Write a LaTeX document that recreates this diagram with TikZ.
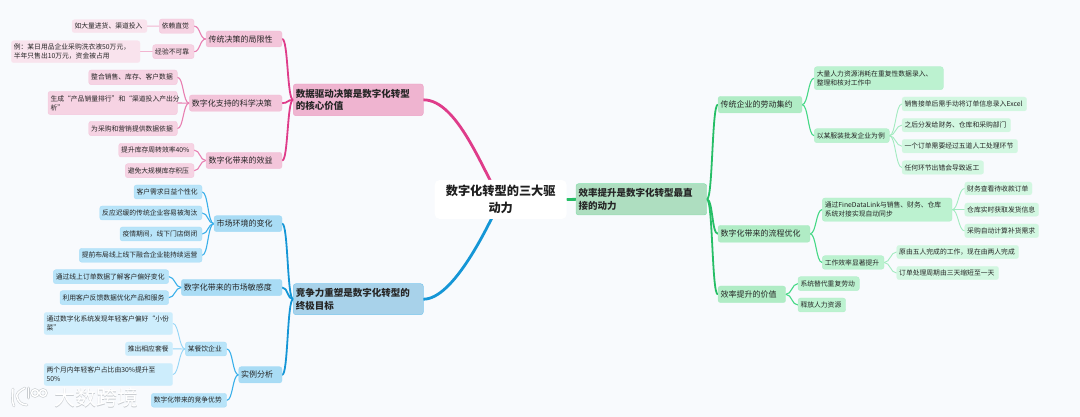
\documentclass[tikz,border=0pt]{standalone}
\usepackage{fontspec}
\setmainfont{Noto Sans CJK SC}
\usetikzlibrary{backgrounds,calc}
\definecolor{bgc}{HTML}{F8FAFD}
\definecolor{pA}{HTML}{EFB4D0}\definecolor{pB}{HTML}{F3C5DA}\definecolor{pC}{HTML}{F6D3E3}\definecolor{pD}{HTML}{F9E3ED}
\definecolor{bA}{HTML}{A8D2EA}\definecolor{bB}{HTML}{A9DCF5}\definecolor{bC}{HTML}{B8E4F9}\definecolor{bD}{HTML}{CDEDFC}
\definecolor{gA}{HTML}{AEDEC0}\definecolor{gB}{HTML}{B0ECC5}\definecolor{gC}{HTML}{BCF2D0}\definecolor{gD}{HTML}{D2F7E1}
\definecolor{pL}{HTML}{DF3C8A}\definecolor{pM}{HTML}{E87FB1}\definecolor{pN}{HTML}{F2B5D0}
\definecolor{bL}{HTML}{1596D6}\definecolor{bM}{HTML}{3AB0EA}\definecolor{bN}{HTML}{93D5F6}
\definecolor{gL}{HTML}{26BE66}\definecolor{gM}{HTML}{45D885}\definecolor{gN}{HTML}{A2EBC0}
\definecolor{wmshadow}{HTML}{C8CCD0}
\tikzset{
  x=1pt,y=1pt,
  box/.style={rounded corners=2.5pt,inner sep=0pt,align=left,text=black!85,draw opacity=.55,line width=.4pt},
  mainbox/.style={box,font=\fontsize{9.5}{12.7}\selectfont\bfseries},
  subbox/.style={box,font=\fontsize{8}{10}\selectfont},
  smallbox/.style={box,font=\fontsize{6.8}{9}\selectfont},
  pa/.style={mainbox,fill=pA,draw=pM},pb/.style={subbox,fill=pB,draw=pN},pc/.style={smallbox,fill=pC,draw=pN},pd/.style={smallbox,fill=pD,draw=pD},
  ba/.style={mainbox,fill=bA,draw=bM},bb/.style={subbox,fill=bB,draw=bN},bc/.style={smallbox,fill=bC,draw=bN},bd/.style={smallbox,fill=bD,draw=bD},
  ga/.style={mainbox,fill=gA,draw=gM},gb/.style={subbox,fill=gB,draw=gN},gc/.style={smallbox,fill=gC,draw=gN},gd/.style={smallbox,fill=gD,draw=gD},
  link/.style={line cap=round,line join=round},
  wmtext/.style={inner sep=0pt,font=\fontsize{21}{21}\selectfont},
}
% \bx{name}{style}{x1}{y1}{x2}{y2}{text}  (pixel coordinates, y downward)
\newcommand{\bx}[7]{%
  \pgfmathsetmacro\bxw{#5-#3}\pgfmathsetmacro\bxh{#6-#4}%
  \pgfmathsetmacro\bxtw{#5-#3-5}%
  \pgfmathsetmacro\bxcx{(#3+#5)/2}\pgfmathsetmacro\bxcy{417-(#4+#6)/2}%
  \node[#2,minimum width=\bxw pt,minimum height=\bxh pt,text width=\bxtw pt] (#1) at (\bxcx,\bxcy) {#7};}
\newcommand{\lkL}[4]{\draw[link,draw=#1,line width=#2pt] (#3.west) to[out=180,in=0,out distance=6pt,in distance=6pt] (#4.east);}
\newcommand{\lkR}[4]{\draw[link,draw=#1,line width=#2pt] (#3.east) to[out=0,in=180,out distance=6pt,in distance=6pt] (#4.west);}
\begin{document}
\begin{tikzpicture}
\useasboundingbox (0,0) rectangle (1080,417);
\begin{scope}[on background layer]
\fill[bgc] (0,0) rectangle (1080,417);
\end{scope}
% centre
\node[rounded corners=5pt,fill=white,inner sep=0pt,minimum width=132pt,minimum height=39pt,align=center,text=black!88,font=\fontsize{12.2}{16.7}\selectfont\bfseries] (centre) at (500.7,217.5) {数字化转型的三大驱\\动力};
% pink branch
\bx{pmain}{pa}{293.3}{84}{423.3}{115.7}{数据驱动决策是数字化转型\\的核心价值}
\bx{p1}{pb}{206}{31}{282}{47}{传统决策的局限性}
\bx{p2}{pb}{189.3}{95}{282}{111.3}{数字化支持的科学决策}
\bx{p3}{pb}{206}{152.3}{282}{168.7}{数字化带来的效益}
\bx{p11}{pc}{159.3}{19}{194}{33.3}{依赖直觉}
\bx{p12}{pc}{152.7}{44.7}{194}{58.7}{经验不可靠}
\bx{p111}{pd}{72}{19.7}{147}{32.7}{如大量进货、渠道投入}
\bx{p121}{pd}{11.3}{40.7}{140}{62.7}{例：某日用品企业采购洗衣液50万元，\\半年只售出10万元，资金被占用}
\bx{p21}{pc}{88.7}{70}{177.3}{84.7}{整合销售、库存、客户数据}
\bx{p22}{pc}{48}{91.3}{177.3}{114.7}{生成“产品销量排行”和“渠道投入产出分\\析”}
\bx{p23}{pc}{88.7}{121.3}{177.3}{135.7}{为采购和营销提供数据依据}
\bx{p31}{pc}{118.7}{143.3}{194}{157}{提升库存周转效率40\%}
\bx{p32}{pc}{125.3}{163.7}{194}{177.7}{避免大规模库存积压}
% blue branch
\bx{bmain}{ba}{293.3}{283.7}{423.3}{314.7}{竞争力重塑是数字化转型的\\终极目标}
\bx{b1}{bb}{214}{215.7}{282}{231.7}{市场环境的变化}
\bx{b2}{bb}{181.3}{279.3}{282}{295.7}{数字化带来的市场敏感度}
\bx{b3}{bb}{238.7}{366.7}{282}{383}{实例分析}
\bx{b11}{bc}{134}{185}{202}{199}{客户需求日益个性化}
\bx{b12}{bc}{99.7}{206}{202}{220}{反应迟缓的传统企业容易被淘汰}
\bx{b13}{bc}{120}{227}{202}{241}{疫情期间，线下门店倒闭}
\bx{b14}{bc}{79.3}{248.3}{202}{262.3}{提前布局线上线下融合企业能持续运营}
\bx{b21}{bc}{53.3}{269.7}{168.7}{283.7}{通过线上订单数据了解客户偏好变化}
\bx{b22}{bc}{60}{290.7}{168.7}{304.7}{利用客户反馈数据优化产品和服务}
\bx{b31}{bc}{185.3}{342}{226.7}{356}{某餐饮企业}
\bx{b32}{bc}{151.3}{393.3}{226.7}{407.3}{数字化带来的竞争优势}
\bx{b311}{bd}{44}{312.3}{172.7}{334.7}{通过数字化系统发现年轻客户偏好“小份\\菜”}
\bx{b312}{bd}{125.3}{342}{172.7}{355.7}{推出相应套餐}
\bx{b313}{bd}{44}{363.3}{172.7}{385.7}{两个月内年轻客户占比由30\%提升至\\50\%}
% green branch
\bx{gmain}{ga}{576}{183.7}{706.7}{215}{效率提升是数字化转型最直\\接的动力}
\bx{g1}{gb}{718}{96.3}{802}{113}{传统企业的劳动集约}
\bx{g2}{gb}{718}{225.3}{810}{242.3}{数字化带来的流程优化}
\bx{g3}{gb}{718}{286}{785.7}{302.7}{效率提升的价值}
\bx{g11}{gc}{814.3}{66.7}{943.3}{89.7}{大量人力资源消耗在重复性数据录入、\\整理和核对工作中}
\bx{g12}{gc}{814.3}{128.7}{889.3}{142.7}{以某服装批发企业为例}
\bx{g121}{gd}{902}{97}{1026.7}{111}{销售接单后需手动将订单信息录入Excel}
\bx{g122}{gd}{902}{118.3}{1010.7}{132}{之后分发给财务、仓库和采购部门}
\bx{g123}{gd}{902}{139.3}{1017.7}{153}{一个订单需要经过五道人工处理环节}
\bx{g124}{gd}{902}{160.7}{983.7}{174.3}{任何环节出错会导致返工}
\bx{g21}{gc}{822.3}{198}{952}{221.3}{通过FineDataLink与销售、财务、仓库\\系统对接实现自动同步}
\bx{g22}{gc}{822.3}{255.7}{884}{269.3}{工作效率显著提升}
\bx{g211}{gd}{964.7}{182}{1032}{195}{财务查看待收款订单}
\bx{g212}{gd}{964.7}{203}{1038.7}{216.3}{仓库实时获取发货信息}
\bx{g213}{gd}{964.7}{224}{1038.7}{237.7}{采购自动计算补货需求}
\bx{g221}{gd}{896.7}{245.3}{1018.7}{258.7}{原由五人完成的工作，现在由两人完成}
\bx{g222}{gd}{896.7}{266.3}{998.7}{279.7}{订单处理周期由三天缩短至一天}
\bx{g31}{gc}{798}{276.7}{859.3}{290.7}{系统替代重复劳动}
\bx{g32}{gc}{798}{298}{845.7}{312}{释放人力资源}
% connectors
\begin{scope}[on background layer]
\draw[link,draw=pL,line width=2.8pt] (pmain.east) to[out=0,in=122,out distance=34pt,in distance=34pt] (centre.center);
\draw[link,draw=bL,line width=2.8pt] (bmain.east) to[out=0,in=-115,out distance=30pt,in distance=30pt] (centre.center);
\draw[link,draw=gL,line width=2.8pt] (centre.east) -- (gmain.west);
\foreach \c in {p1,p2,p3}{\lkL{pL}{1.8}{pmain}{\c}}
\foreach \c in {p11,p12}{\lkL{pM}{1.1}{p1}{\c}}
\foreach \c in {p21,p22,p23}{\lkL{pM}{1.1}{p2}{\c}}
\foreach \c in {p31,p32}{\lkL{pM}{1.1}{p3}{\c}}
\lkL{pN}{.9}{p11}{p111}
\lkL{pN}{.9}{p12}{p121}
\foreach \c in {b1,b2,b3}{\lkL{bL}{1.8}{bmain}{\c}}
\foreach \c in {b11,b12,b13,b14}{\lkL{bM}{1.1}{b1}{\c}}
\foreach \c in {b21,b22}{\lkL{bM}{1.1}{b2}{\c}}
\foreach \c in {b31,b32}{\lkL{bM}{1.1}{b3}{\c}}
\foreach \c in {b311,b312,b313}{\lkL{bN}{.9}{b31}{\c}}
\foreach \c in {g1,g2,g3}{\lkR{gL}{1.8}{gmain}{\c}}
\foreach \c in {g11,g12}{\lkR{gM}{1.1}{g1}{\c}}
\foreach \c in {g21,g22}{\lkR{gM}{1.1}{g2}{\c}}
\foreach \c in {g31,g32}{\lkR{gM}{1.1}{g3}{\c}}
\foreach \c in {g121,g122,g123,g124}{\lkR{gN}{.9}{g12}{\c}}
\foreach \c in {g211,g212,g213}{\lkR{gN}{.9}{g21}{\c}}
\foreach \c in {g221,g222}{\lkR{gN}{.9}{g22}{\c}}
\end{scope}
% watermark (px y measured downward, so y = 417 - py)
\begin{scope}[line cap=round]
\foreach \col/\lw in {wmshadow/2.6,white/1.5}{
\draw[\col,line width=\lw pt] (13,28) -- (12.5,19) .. controls (12.5,15) and (13,13) .. (14,11);
\draw[\col,line width=\lw pt] (25,29) .. controls (19,26) and (16,23) .. (17,20) .. controls (18,15) and (22,12) .. (27,12);
\draw[\col,line width=\lw pt] (28.5,29) -- (28.5,19);
\draw[\col,line width=\lw pt] (35,24) circle[radius=3.4];
\draw[\col,line width=\lw pt] (43,24) circle[radius=3.4];
}
\end{scope}
\node[wmtext,text=wmshadow] (wmb) at (96.6,18.4) {大数跨境};
\node[wmtext,text=white] (wm) at (96,19) {大数跨境};
\end{tikzpicture}
\end{document}
